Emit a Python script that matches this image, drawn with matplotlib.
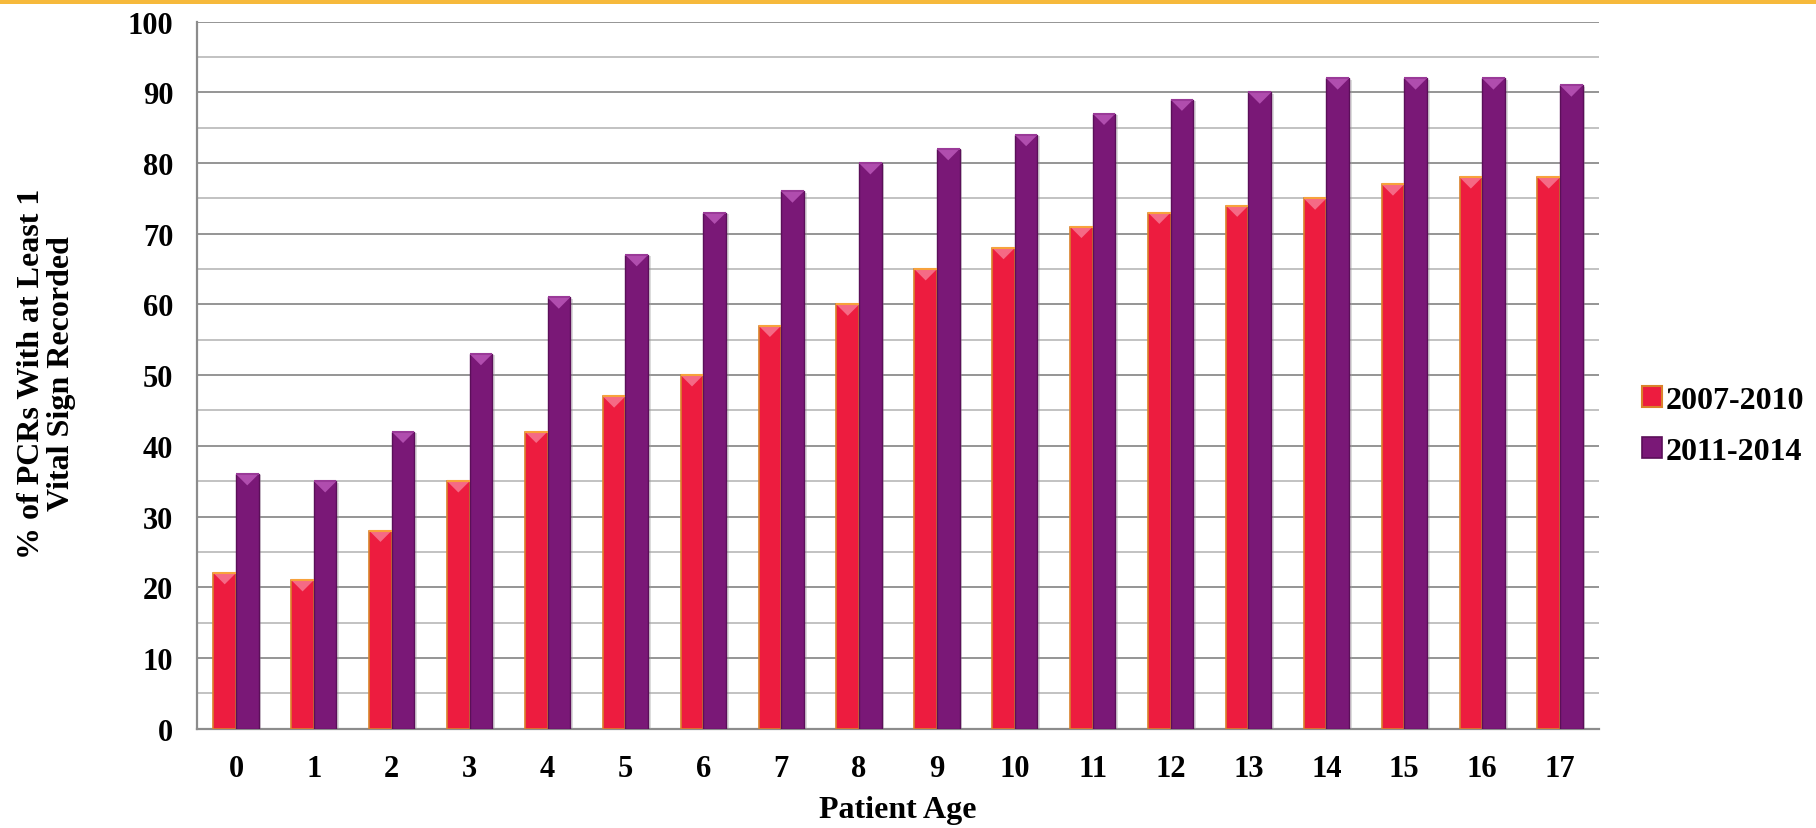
import matplotlib
matplotlib.use("Agg")
import matplotlib.pyplot as plt
import numpy as np
from matplotlib.patches import Patch, Polygon, Rectangle
import matplotlib.patheffects as pe

ages = [str(a) for a in range(18)]
pct_2007_2010 = [22, 21, 28, 35, 42, 47, 50, 57, 60, 65, 68, 71, 73, 74, 75, 77, 78, 78]
pct_2011_2014 = [36, 35, 42, 53, 61, 67, 73, 76, 80, 82, 84, 87, 89, 90, 92, 92, 92, 91]
series_labels = ["2007-2010", "2011-2014"]

RED = "#ED1C3F"
RED_EDGE = "#D9822B"
RED_CAP = "#F56A85"
PURPLE = "#7A1877"
PURPLE_EDGE = "#5B0F59"
PURPLE_CAP = "#B04DAE"

plt.rcParams["font.family"] = ["Liberation Serif", "DejaVu Serif"]
plt.rcParams["font.weight"] = "bold"

fig = plt.figure(figsize=(18.16, 8.29), dpi=100)
ax = fig.add_axes([0.1085, 0.12, 0.772, 0.8525])

x = np.arange(len(ages))
w = 0.29
shadow = [pe.SimplePatchShadow(offset=(2, -1), shadow_rgbFace="#999999", alpha=0.35), pe.Normal()]

bars_a = ax.bar(x - w / 2, pct_2007_2010, w, color=RED, edgecolor=RED_EDGE, linewidth=1.2,
                zorder=3, path_effects=shadow)
bars_b = ax.bar(x + w / 2, pct_2011_2014, w, color=PURPLE, edgecolor=PURPLE_EDGE, linewidth=1.0,
                zorder=3, path_effects=shadow)

# bevelled top on each bar: thin cap strip plus a downward chevron
for bars, cap, top_line in ((bars_a, RED_CAP, "#F7A23C"), (bars_b, PURPLE_CAP, "#9A3A98")):
    for b in bars:
        x0, bw, h = b.get_x(), b.get_width(), b.get_height()
        tri = Polygon([(x0, h), (x0 + bw, h), (x0 + bw / 2, h - 1.6)], closed=True,
                      facecolor=cap, edgecolor="none", zorder=4)
        ax.add_patch(tri)
        ax.plot([x0, x0 + bw], [h, h], color=top_line, lw=1.5, zorder=5, solid_capstyle="butt")

ax.set_xlim(-0.5, len(ages) - 0.5)
ax.set_ylim(0, 100)
ax.set_yticks(np.arange(0, 101, 10))
ax.set_yticks(np.arange(5, 100, 10), minor=True)
ax.set_xticks(x)
ax.set_xticklabels(ages)
ax.grid(axis="y", which="major", color="#8C8C8C", lw=1.3, zorder=0)
ax.grid(axis="y", which="minor", color="#BDBDBD", lw=1.3, zorder=0)
ax.set_axisbelow(True)
ax.tick_params(axis="both", which="both", length=0, labelsize=22)
ax.tick_params(axis="x", pad=18)
ax.tick_params(axis="y", pad=17)
for lbl in ax.get_xticklabels() + ax.get_yticklabels():
    lbl.set_fontweight("bold")

for side in ("top", "right"):
    ax.spines[side].set_visible(False)
for side in ("left", "bottom"):
    ax.spines[side].set_color("#8C8C8C")
    ax.spines[side].set_linewidth(1.6)

ax.set_xlabel("Patient Age", fontsize=23, fontweight="bold", labelpad=9)
fig.text(0.0256, 0.549, "% of PCRs With at Least 1\nVital Sign Recorded", rotation=90,
         ha="center", va="center", multialignment="center", fontsize=23,
         fontweight="bold", linespacing=1.05)

handles = [Patch(facecolor=RED, edgecolor=RED_EDGE, lw=1.5),
           Patch(facecolor=PURPLE, edgecolor=PURPLE_EDGE, lw=1.2)]
leg = fig.legend(handles, series_labels, loc="center left", bbox_to_anchor=(0.904, 0.485),
                 frameon=False, fontsize=23, handlelength=0.63, handleheight=0.63,
                 handletextpad=0.12, labelspacing=0.68, borderaxespad=0, borderpad=0)
for t in leg.get_texts():
    t.set_fontweight("bold")

# golden rule along the top edge of the slide
fig.add_artist(Rectangle((0, 0.994), 1, 0.006, transform=fig.transFigure,
                         facecolor="#F6B93B", edgecolor="none"))

fig.savefig("out.png", dpi=100)
